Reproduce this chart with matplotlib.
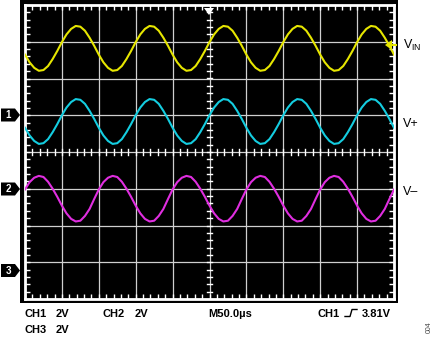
import matplotlib
matplotlib.use("Agg")
import matplotlib.pyplot as plt
from matplotlib.patches import Rectangle, Polygon
from matplotlib.lines import Line2D
from matplotlib.ticker import MultipleLocator
import numpy as np

plt.rcParams['font.family'] = ['Liberation Sans', 'DejaVu Sans']
plt.rcParams['mathtext.fontset'] = 'custom'
plt.rcParams['mathtext.rm'] = 'Liberation Sans'

# ── Data (screen divisions, 0..8 bottom to top; time in µs, 50 µs/div) ──
time_us = np.linspace(0, 500, 81)

vin = [6.65, 6.44, 6.29, 6.21, 6.23, 6.34, 6.53, 6.75, 6.99, 7.20, 7.35, 7.43, 7.41, 7.30, 7.11, 6.89,
       6.65, 6.44, 6.29, 6.21, 6.23, 6.34, 6.53, 6.75, 6.99, 7.20, 7.35, 7.43, 7.41, 7.30, 7.11, 6.89,
       6.65, 6.44, 6.29, 6.21, 6.23, 6.34, 6.53, 6.75, 6.99, 7.20, 7.35, 7.43, 7.41, 7.30, 7.11, 6.89,
       6.65, 6.44, 6.29, 6.21, 6.23, 6.34, 6.53, 6.75, 6.99, 7.20, 7.35, 7.43, 7.41, 7.30, 7.11, 6.89,
       6.65, 6.44, 6.29, 6.21, 6.23, 6.34, 6.53, 6.75, 6.99, 7.20, 7.35, 7.43, 7.41, 7.30, 7.11, 6.89,
       6.65]

v_plus = [4.66, 4.45, 4.30, 4.22, 4.24, 4.35, 4.54, 4.76, 5.00, 5.21, 5.36, 5.44, 5.42, 5.31, 5.12, 4.90,
          4.66, 4.45, 4.30, 4.22, 4.24, 4.35, 4.54, 4.76, 5.00, 5.21, 5.36, 5.44, 5.42, 5.31, 5.12, 4.90,
          4.66, 4.45, 4.30, 4.22, 4.24, 4.35, 4.54, 4.76, 5.00, 5.21, 5.36, 5.44, 5.42, 5.31, 5.12, 4.90,
          4.66, 4.45, 4.30, 4.22, 4.24, 4.35, 4.54, 4.76, 5.00, 5.21, 5.36, 5.44, 5.42, 5.31, 5.12, 4.90,
          4.66, 4.45, 4.30, 4.22, 4.24, 4.35, 4.54, 4.76, 5.00, 5.21, 5.36, 5.44, 5.42, 5.31, 5.12, 4.90,
          4.66]

v_minus = [2.98, 3.18, 3.30, 3.35, 3.32, 3.19, 3.00, 2.78, 2.54, 2.33, 2.18, 2.11, 2.13, 2.26, 2.45, 2.72,
           2.98, 3.18, 3.30, 3.35, 3.32, 3.19, 3.00, 2.78, 2.54, 2.33, 2.18, 2.11, 2.13, 2.26, 2.45, 2.72,
           2.98, 3.18, 3.30, 3.35, 3.32, 3.19, 3.00, 2.78, 2.54, 2.33, 2.18, 2.11, 2.13, 2.26, 2.45, 2.72,
           2.98, 3.18, 3.30, 3.35, 3.32, 3.19, 3.00, 2.78, 2.54, 2.33, 2.18, 2.11, 2.13, 2.26, 2.45, 2.72,
           2.98, 3.18, 3.30, 3.35, 3.32, 3.19, 3.00, 2.78, 2.54, 2.33, 2.18, 2.11, 2.13, 2.26, 2.45, 2.72,
           2.98]

trace_names = ['V$_{\\mathregular{IN}}$', 'V+', 'V\u2013']
channel_labels = ['1', '2', '3']
readout_row1 = ['CH1', '2V', 'CH2', '2V', 'M50.0\u00b5s', 'CH1', '3.81V']
readout_row2 = ['CH3', '2V']

W, H = 435, 339


def fx(x):
    return x / W


def fy(y):
    return 1 - y / H


# ── Figure & screen ─────────────────────────────────────────────────
fig = plt.figure(figsize=(4.35, 3.39), dpi=100)
fig.patch.set_facecolor('white')
fig.patches.append(Rectangle((fx(20), fy(303)), (398 - 20) / W, 303 / H,
                             transform=fig.transFigure, facecolor='black',
                             edgecolor='none', zorder=-5))

ax = fig.add_axes([fx(25), fy(299), (394 - 25) / W, (299 - 5) / H])
ax.set_zorder(1)
ax.set_facecolor('black')
ax.set_xlim(0, 500)
ax.set_ylim(0, 8)

ax.xaxis.set_major_locator(MultipleLocator(50))
ax.yaxis.set_major_locator(MultipleLocator(1))
ax.xaxis.set_minor_locator(MultipleLocator(10))
ax.yaxis.set_minor_locator(MultipleLocator(0.2))
ax.grid(which='major', color='#cfcfcf', linewidth=0.9)
ax.tick_params(which='both', direction='in', top=True, right=True,
               color='white', length=3.5, width=1.0,
               labelbottom=False, labelleft=False)
for s in ax.spines.values():
    s.set_color('white')
    s.set_linewidth(2)

# centre cross ticks
for xt in np.arange(10, 500, 10):
    ax.plot([xt, xt], [3.93, 4.07], color='white', lw=1.0, zorder=2)
for yt in np.arange(0.2, 8, 0.2):
    ax.plot([246.5, 253.5], [yt, yt], color='white', lw=1.0, zorder=2)

# ── Traces ──────────────────────────────────────────────────────────
ax.plot(time_us, vin, color='#e6e600', lw=1.5, zorder=3)
ax.plot(time_us, v_plus, color='#14cde0', lw=1.5, zorder=3)
ax.plot(time_us, v_minus, color='#e02ee0', lw=1.5, zorder=3)

# ── Markers ─────────────────────────────────────────────────────────
# trigger position (top)
fig.patches.append(Polygon([(fx(204), fy(8)), (fx(214), fy(8)), (fx(209), fy(15))],
                           closed=True, transform=fig.transFigure,
                           facecolor='white', edgecolor='none', zorder=5))
# trigger level (right)
fig.patches.append(Polygon([(fx(385), fy(45)), (fx(392), fy(40)), (fx(392), fy(50))],
                           closed=True, transform=fig.transFigure,
                           facecolor='#e6e600', edgecolor='none', zorder=5))
fig.lines.append(Line2D([fx(389), fx(396)], [fy(45), fy(45)],
                        transform=fig.transFigure, color='#e6e600', lw=1.5, zorder=5))

# channel ground markers (left)
for lab, yc in zip(channel_labels, [115, 189, 270.5]):
    fig.patches.append(Polygon([(fx(1), fy(yc - 6.5)), (fx(15), fy(yc - 6.5)),
                                (fx(20), fy(yc)), (fx(15), fy(yc + 6.5)),
                                (fx(1), fy(yc + 6.5))],
                               closed=True, transform=fig.transFigure,
                               facecolor='black', edgecolor='none', zorder=5))
    fig.text(fx(8.5), fy(yc), lab, color='white', fontsize=7, fontweight='bold',
             ha='center', va='center', zorder=6)

# trace names (right)
for name, yc in zip(trace_names, [45, 124, 192]):
    fig.text(fx(403), fy(yc), name, color='black', fontsize=9,
             ha='left', va='center')

# ── Readout ─────────────────────────────────────────────────────────
row1_x = [25, 56, 103, 135, 208, 318, 362]
for txt, x in zip(readout_row1, row1_x):
    fig.text(fx(x), fy(317), txt, fontsize=8, fontweight='bold', ha='left', va='baseline')
for txt, x in zip(readout_row2, [25, 56]):
    fig.text(fx(x), fy(333), txt, fontsize=8, fontweight='bold', ha='left', va='baseline')

# rising edge symbol
fig.lines.append(Line2D([fx(345), fx(350), fx(352), fx(357)],
                        [fy(316.5), fy(316.5), fy(309.5), fy(309.5)],
                        transform=fig.transFigure, color='black', lw=1.0))

fig.text(fx(429), fy(327), '004', fontsize=5, color='#444444', rotation=90,
         ha='center', va='center')

plt.savefig('out.png', dpi=100)
